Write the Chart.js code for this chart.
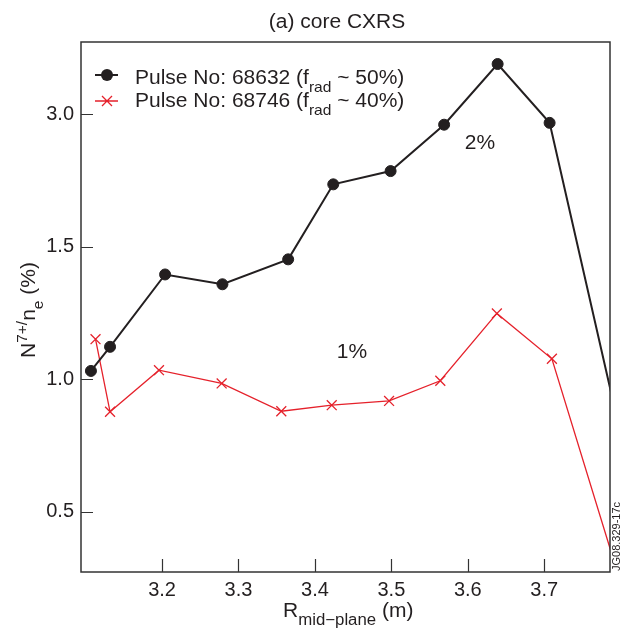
<!DOCTYPE html>
<html>
<head>
<meta charset="utf-8">
<script src="https://cdn.jsdelivr.net/npm/chart.js@4.4.1/dist/chart.umd.min.js"></script>
<style>
  html, body { margin: 0; padding: 0; background: #fff; }
  #wrap { width: 621px; height: 630px; }
</style>
</head>
<body>
<div id="wrap"><canvas id="chart" width="621" height="630"></canvas></div>
<script>
// pulse 68632 (f_rad ~ 50%), last point sits past the right edge of the frame
const pulse68632R = [3.107, 3.132, 3.204, 3.279, 3.365, 3.424, 3.499, 3.569, 3.639, 3.707, 3.80];
const pulse68632N = [1.031, 1.122, 1.395, 1.358, 1.452, 1.735, 1.785, 1.960, 2.189, 1.967, 0.79];
// pulse 68746 (f_rad ~ 40%)
const pulse68746R = [3.113, 3.132, 3.196, 3.278, 3.356, 3.422, 3.497, 3.564, 3.638, 3.710, 3.80];
const pulse68746N = [1.151, 0.877, 1.034, 0.984, 0.879, 0.902, 0.918, 0.994, 1.248, 1.077, 0.23];

const xTicks = [3.2, 3.3, 3.4, 3.5, 3.6, 3.7];
const xTickLabels = ['3.2', '3.3', '3.4', '3.5', '3.6', '3.7'];
const yTicks = [0.5, 1.0, 1.5, 2.0];
const yTickLabels = ['0.5', '1.0', '1.5', '3.0']; // top label is printed 3.0 in the original figure

const FONT = "'Liberation Sans', Arial, sans-serif";
const INK = '#231f20';
const RED = '#e5212b';

function toPoints(xs, ys) {
  return xs.map((x, i) => ({ x: x, y: ys[i] }));
}

// parts: [text, shift] with shift 0 = normal, -1 = subscript, 1 = superscript
function drawRich(ctx, parts, x, y, size, align, ratio) {
  const small = size * (ratio || 0.74);
  const widths = parts.map(([t, s]) => {
    ctx.font = (s ? small : size) + 'px ' + FONT;
    return ctx.measureText(t).width;
  });
  const total = widths.reduce((a, b) => a + b, 0);
  let cx = align === 'center' ? x - total / 2 : x;
  ctx.textAlign = 'left';
  ctx.textBaseline = 'alphabetic';
  parts.forEach(([t, s], i) => {
    ctx.font = (s ? small : size) + 'px ' + FONT;
    const dy = s < 0 ? size * 0.42 : (s > 0 ? -size * 0.42 : 0);
    ctx.fillText(t, cx, y + dy);
    cx += widths[i];
  });
}

function stretched(ctx, x, y, fn) {
  ctx.save();
  ctx.translate(x, y);
  ctx.scale(1.05, 1);
  fn();
  ctx.restore();
}

const framePlugin = {
  id: 'frame',
  afterDraw(chart) {
    const ctx = chart.ctx;
    const a = chart.chartArea;
    const xs = chart.scales.x;
    const ys = chart.scales.y;

    ctx.save();
    ctx.strokeStyle = '#333';
    ctx.lineWidth = 1.5;
    ctx.strokeRect(a.left, a.top, a.right - a.left, a.bottom - a.top);

    // inward tick marks
    ctx.lineWidth = 1.2;
    ctx.beginPath();
    xTicks.forEach(v => {
      const px = Math.round(xs.getPixelForValue(v)) + 0.5;
      ctx.moveTo(px, a.bottom);
      ctx.lineTo(px, a.bottom - 13);
    });
    yTicks.forEach(v => {
      const py = Math.round(ys.getPixelForValue(v)) + 0.5;
      ctx.moveTo(a.left, py);
      ctx.lineTo(a.left + 12, py);
    });
    ctx.stroke();

    ctx.fillStyle = INK;

    // title
    stretched(ctx, 337, 28, () => drawRich(ctx, [['(a) core CXRS', 0]], 0, 0, 20, 'center'));

    // legend
    ctx.strokeStyle = INK;
    ctx.lineWidth = 2;
    ctx.beginPath();
    ctx.moveTo(95, 75);
    ctx.lineTo(118, 75);
    ctx.stroke();
    ctx.beginPath();
    ctx.arc(107, 75, 6, 0, Math.PI * 2);
    ctx.fill();

    ctx.strokeStyle = RED;
    ctx.lineWidth = 1.3;
    ctx.beginPath();
    ctx.moveTo(95, 101);
    ctx.lineTo(118, 101);
    ctx.moveTo(102, 96);
    ctx.lineTo(112, 106);
    ctx.moveTo(112, 96);
    ctx.lineTo(102, 106);
    ctx.stroke();

    stretched(ctx, 135, 84, () => drawRich(ctx, [['Pulse No: 68632 (f', 0], ['rad', -1], [' ~ 50%)', 0]], 0, 0, 20, 'left'));
    stretched(ctx, 135, 107, () => drawRich(ctx, [['Pulse No: 68746 (f', 0], ['rad', -1], [' ~ 40%)', 0]], 0, 0, 20, 'left'));

    // in-plot annotations
    stretched(ctx, 480, 149, () => drawRich(ctx, [['2%', 0]], 0, 0, 20, 'center'));
    stretched(ctx, 352, 358, () => drawRich(ctx, [['1%', 0]], 0, 0, 20, 'center'));

    // axis titles
    stretched(ctx, 283, 617, () => drawRich(ctx, [['R', 0], ['mid\u2212plane', -1], [' (m)', 0]], 0, 0, 20, 'left', 0.8));

    ctx.save();
    ctx.translate(35, 310);
    ctx.rotate(-Math.PI / 2);
    ctx.scale(1.05, 1);
    drawRich(ctx, [['N', 0], ['7+/', 1], ['n', 0], ['e', -1], [' (%)', 0]], 0, 0, 20, 'center');
    ctx.restore();

    // figure id
    ctx.save();
    ctx.translate(620, 571);
    ctx.rotate(-Math.PI / 2);
    ctx.font = '11px ' + FONT;
    ctx.textAlign = 'left';
    ctx.textBaseline = 'alphabetic';
    ctx.fillText('JG08.329-17c', 0, 0);
    ctx.restore();

    ctx.restore();
  }
};

new Chart(document.getElementById('chart'), {
  type: 'scatter',
  data: {
    datasets: [
      {
        label: 'Pulse No: 68632',
        data: toPoints(pulse68632R, pulse68632N),
        showLine: true,
        borderColor: INK,
        backgroundColor: INK,
        borderWidth: 2,
        pointStyle: 'circle',
        pointRadius: 5.5,
        pointBorderWidth: 1,
        pointBorderColor: INK,
        pointBackgroundColor: INK
      },
      {
        label: 'Pulse No: 68746',
        data: toPoints(pulse68746R, pulse68746N),
        showLine: true,
        borderColor: RED,
        backgroundColor: RED,
        borderWidth: 1.3,
        pointStyle: 'crossRot',
        pointRadius: 7,
        pointBorderWidth: 1.3,
        pointBorderColor: RED
      }
    ]
  },
  options: {
    responsive: false,
    animation: false,
    devicePixelRatio: 1,
    layout: { padding: { top: 42, right: 11, left: 0, bottom: 0 } },
    plugins: {
      legend: { display: false },
      tooltip: { enabled: false },
      title: { display: false }
    },
    scales: {
      x: {
        type: 'linear',
        min: 3.094,
        max: 3.786,
        afterBuildTicks: s => { s.ticks = xTicks.map(v => ({ value: v })); },
        afterFit: s => { s.height = 58; },
        grid: { display: false, drawTicks: false },
        border: { display: false },
        ticks: {
          padding: 6,
          color: INK,
          font: { family: FONT, size: 20 },
          maxRotation: 0,
          autoSkip: false,
          callback: (v, i) => xTickLabels[i]
        }
      },
      y: {
        type: 'linear',
        min: 0.2725,
        max: 2.272,
        afterBuildTicks: s => { s.ticks = yTicks.map(v => ({ value: v })); },
        afterFit: s => { s.width = 81; },
        grid: { display: false, drawTicks: false },
        border: { display: false },
        ticks: {
          padding: 7,
          color: INK,
          font: { family: FONT, size: 20 },
          autoSkip: false,
          callback: (v, i) => yTickLabels[i]
        }
      }
    }
  },
  plugins: [framePlugin]
});
</script>
</body>
</html>
